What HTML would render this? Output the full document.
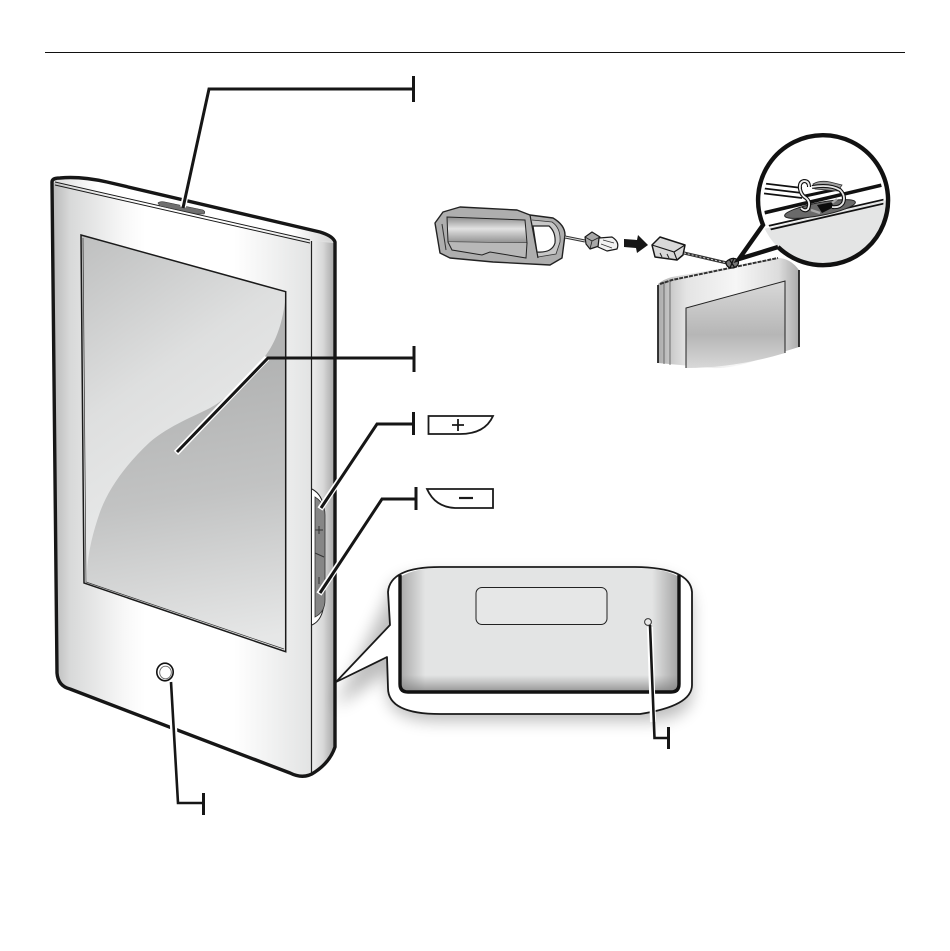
<!DOCTYPE html>
<html>
<head>
<meta charset="utf-8">
<style>
html,body{margin:0;padding:0;background:#fff;width:950px;height:951px;overflow:hidden}
svg{display:block}
</style>
</head>
<body>
<svg width="950" height="951" viewBox="0 0 950 951" xmlns="http://www.w3.org/2000/svg">
<defs>
<linearGradient id="face" gradientUnits="userSpaceOnUse" x1="52" y1="0" x2="312" y2="0">
<stop offset="0" stop-color="#b8b8b8"/><stop offset=".07" stop-color="#d8d9d9"/><stop offset=".28" stop-color="#f8f8f8"/><stop offset=".36" stop-color="#fff"/><stop offset=".7" stop-color="#fff"/><stop offset="1" stop-color="#e2e3e3"/>
</linearGradient>
<linearGradient id="side" gradientUnits="userSpaceOnUse" x1="312" y1="0" x2="334" y2="0">
<stop offset="0" stop-color="#eceded"/><stop offset=".5" stop-color="#d8d8d8"/><stop offset="1" stop-color="#a8a8a8"/>
</linearGradient>
<linearGradient id="topsurf" gradientUnits="userSpaceOnUse" x1="55" y1="0" x2="335" y2="0">
<stop offset="0" stop-color="#dcdcdc"/><stop offset=".15" stop-color="#fff"/><stop offset=".85" stop-color="#fff"/><stop offset="1" stop-color="#d0d0d0"/>
</linearGradient>
<linearGradient id="scrLight" gradientUnits="userSpaceOnUse" x1="90" y1="240" x2="230" y2="440">
<stop offset="0" stop-color="#c0c1c1"/><stop offset=".6" stop-color="#dedfdf"/><stop offset="1" stop-color="#e6e7e7"/>
</linearGradient>
<linearGradient id="scrDark" gradientUnits="userSpaceOnUse" x1="205" y1="370" x2="250" y2="640">
<stop offset="0" stop-color="#b2b3b3"/><stop offset=".45" stop-color="#c2c3c3"/><stop offset="1" stop-color="#e6e7e7"/>
</linearGradient>
<linearGradient id="cal" gradientUnits="userSpaceOnUse" x1="400" y1="0" x2="680" y2="0">
<stop offset="0" stop-color="#a8a8a8"/><stop offset=".09" stop-color="#e3e4e4"/><stop offset=".9" stop-color="#e3e4e4"/><stop offset="1" stop-color="#a0a0a0"/>
</linearGradient>
<linearGradient id="calb" gradientUnits="userSpaceOnUse" x1="0" y1="675" x2="0" y2="692">
<stop offset="0" stop-color="#888" stop-opacity="0"/><stop offset="1" stop-color="#777" stop-opacity=".75"/>
</linearGradient>
<linearGradient id="mini" gradientUnits="userSpaceOnUse" x1="658" y1="0" x2="800" y2="0">
<stop offset="0" stop-color="#aaa"/><stop offset=".1" stop-color="#ccc"/><stop offset=".2" stop-color="#e4e4e4"/><stop offset=".55" stop-color="#f6f6f6"/><stop offset=".85" stop-color="#dcdcdc"/><stop offset="1" stop-color="#a8a8a8"/>
</linearGradient>
<linearGradient id="miniScr" gradientUnits="userSpaceOnUse" x1="0" y1="285" x2="0" y2="368">
<stop offset="0" stop-color="#d6d6d6"/><stop offset=".6" stop-color="#b6b6b6"/><stop offset="1" stop-color="#d8d8d8"/>
</linearGradient>
<linearGradient id="block" gradientUnits="userSpaceOnUse" x1="0" y1="217" x2="0" y2="243">
<stop offset="0" stop-color="#8c8c8c"/><stop offset=".45" stop-color="#e2e2e2"/><stop offset="1" stop-color="#909090"/>
</linearGradient>
<filter id="sh" x="-20%" y="-20%" width="140%" height="150%"><feGaussianBlur stdDeviation="8"/></filter>
<clipPath id="cp"><circle cx="823.5" cy="201" r="60"/></clipPath>
<clipPath id="cp2"><circle cx="823.5" cy="201" r="65"/></clipPath>
</defs>

<!-- top rule -->
<rect x="45" y="52" width="860" height="1" fill="#111"/>

<!-- device -->
<path d="M52,182 Q52,178 60,178 Q80,176 107,182 L320,232 Q333,236 335,242 L335,747 Q330,762 315,772 Q304,780 290,773 L70,689 Q58,686 57,673 Z" fill="url(#face)"/>
<path d="M52,182 Q52,178 60,178 Q80,176 107,182 L320,232 Q333,236 335,242 L311,241 L55,183 Z" fill="url(#topsurf)"/>
<path d="M311,241 L335,243 L335,747 Q330,762 315,772 L311,772 Z" fill="url(#side)"/>
<path d="M55,182 L310,240 M55,185 L310,243" stroke="#1a1a1a" stroke-width="1" fill="none"/>
<path d="M311.5,241 V773" stroke="#222" stroke-width="1.2" fill="none"/>
<path d="M52,182 Q52,178 60,178 Q80,176 107,182 L320,232 Q333,236 335,242 L335,747 Q330,762 315,772 Q304,780 290,773 L70,689 Q58,686 57,673 Z" fill="none" stroke="#161616" stroke-width="3.4" stroke-linejoin="round"/>

<!-- top button -->
<path d="M158,203 Q160,201 165,202 L203,210 Q206,212 204,214 L197,214 L160,206 Z" fill="#707070" stroke="#333" stroke-width=".6"/>

<!-- screen -->
<polygon points="81,235 285.7,291.7 285.7,651.7 84,583" fill="url(#scrLight)"/>
<path d="M285,302 C282,325 275,345 262,360 C245,380 228,398 210,408 C195,416 170,425 150,442 C125,465 108,490 100,512 C93,532 88,552 87,572 L87,583 L285.7,651.7 Z" fill="url(#scrDark)"/>
<polygon points="81,235 285.7,291.7 285.7,651.7 84,583" fill="none" stroke="#1a1a1a" stroke-width="1.5"/>
<path d="M83,238 L86,582 L284,649" fill="none" stroke="#333" stroke-width=".7"/>

<!-- side buttons -->
<path d="M312,489 Q323,495 324,510 V602 Q323,620 312,625" fill="#fff" stroke="#222" stroke-width="1"/>
<path d="M315,497 Q325,503 325,515 V600 Q325,612 315,617 Z" fill="#868686" stroke="#333" stroke-width=".8"/>
<path d="M315,553 L324,557" stroke="#333" stroke-width="1"/>
<path d="M315.5,530 H323 M319,526 V534 M319,577 V584" stroke="#333" stroke-width="1"/>

<!-- home button -->
<ellipse cx="165" cy="672" rx="8.2" ry="8.8" fill="#fff" stroke="#111" stroke-width="1.6"/>
<ellipse cx="165.5" cy="672.5" rx="5.8" ry="6.3" fill="#fff" stroke="#666" stroke-width=".9"/>

<!-- callout -->
<path d="M388,590 Q390,567 440,567 H632 Q692,567 692,600 V685 Q692,714 640,714 H440 Q388,714 388,685 V665 L336,700 Z" fill="#000" opacity=".26" filter="url(#sh)" transform="translate(0,7)"/>
<path d="M390,625 L388,592 Q390,567 440,567 H632 Q690,567 692,592 V685 Q692,706 640,714 H440 Q388,714 388,688 L387,657 L336,682 Z" fill="#fff"/>
<path d="M400,577 Q415,568 440,568 H632 Q665,568 679,577 V684 Q679,692 671,692 H408 Q400,692 400,684 Z" fill="url(#cal)"/>
<rect x="401" y="675" width="277" height="17" fill="url(#calb)"/>
<path d="M390,625 L388,592 Q390,567 440,567 H632 Q690,567 692,592 V685 Q692,706 640,714 H440 Q388,714 388,688 L387,657 L336,682 Z" fill="none" stroke="#1a1a1a" stroke-width="1.8" stroke-linejoin="round"/>
<path d="M400,575 V684 Q400,692 408,692 H671 Q679,692 679,684 V575" fill="none" stroke="#111" stroke-width="3.4"/>
<rect x="476" y="587.5" width="131" height="37" rx="6" fill="#e6e7e7" stroke="#222" stroke-width="1"/>
<circle cx="648" cy="622" r="3.4" fill="#e8e8e8" stroke="#333" stroke-width="1"/>

<!-- leaders with white halos -->
<g fill="none" stroke-linejoin="miter">
<path d="M209,89 L183,207" stroke="#fff" stroke-width="6"/>
<path d="M415,89 H209 L183,208" stroke="#161616" stroke-width="3"/>
<path d="M413.5,76 V102" stroke="#161616" stroke-width="3"/>

<path d="M267,358 L176,453" stroke="#fff" stroke-width="6"/>
<path d="M415,358 H268 L177,452" stroke="#161616" stroke-width="3"/>
<path d="M414,346 V372" stroke="#161616" stroke-width="3"/>

<path d="M377,424 L320,509" stroke="#fff" stroke-width="6"/>
<path d="M413,424 H377 L321,508" stroke="#161616" stroke-width="3"/>
<path d="M413.5,412 V435" stroke="#161616" stroke-width="3"/>

<path d="M382,499 L319,594" stroke="#fff" stroke-width="6"/>
<path d="M416,499 H382 L320,593" stroke="#161616" stroke-width="3"/>
<path d="M416,487 V510" stroke="#161616" stroke-width="3"/>

<path d="M171,684 L176,770" stroke="#fff" stroke-width="7"/>
<path d="M171,682 L178,803 H203" stroke="#161616" stroke-width="2.6"/>
<path d="M203.5,793 V815" stroke="#161616" stroke-width="3"/>

<path d="M650,627 L653,722" stroke="#fff" stroke-width="6"/>
<path d="M650,625 L654.5,738 H668" stroke="#161616" stroke-width="2.6"/>
<path d="M668.5,727 V749" stroke="#161616" stroke-width="3"/>
</g>

<!-- plus / minus icons -->
<path d="M428.5,416 H493 Q485,434 460,434 H428.5 Z" fill="#fff" stroke="#1a1a1a" stroke-width="1.8"/>
<path d="M452,425 H464 M458,419 V431" stroke="#1a1a1a" stroke-width="1.8"/>
<path d="M427,489 H493 V508 H455 Q435,507 427,489 Z" fill="#fff" stroke="#1a1a1a" stroke-width="1.8"/>
<path d="M459,498 H473" stroke="#1a1a1a" stroke-width="2.2"/>

<!-- mini device -->
<path d="M658,284 Q664,279 672,277 L778,258 Q790,258 799,270 V347 L757,360 Q730,369 713,368 L658,363 Z" fill="url(#mini)"/>
<path d="M658,285 V363 M799,270 V347" stroke="#222" stroke-width="1.8" fill="none"/>
<path d="M670,280 V365 M664,282 V364" stroke="#555" stroke-width=".8" fill="none"/>
<path d="M660,284 L672,280 L778,258" stroke="#333" stroke-width="2" stroke-dasharray="4 1" fill="none"/>
<path d="M686,308 L785,281 V353 Q735,368 686,368 Z" fill="url(#miniScr)"/>
<path d="M686,368 V308 L785,281 V353" fill="none" stroke="#222" stroke-width="1"/>

<!-- strap -->
<path d="M435,223 L443,212 L460,207 L517,210 L530,215 L553,218 Q565,225 565,235 L562,258 L550,265 L493,262 L450,258 L440,253 Z" fill="#aeaeae" stroke="#222" stroke-width="1.4" stroke-linejoin="round"/>
<path d="M532,220 L552,222 Q561,228 560,242 L556,254 L538,257" fill="#c8c8c8" stroke="#333" stroke-width=".8"/>
<path d="M533,226 H549 Q556,232 555,243 Q552,253 537,252 Z" fill="#fff" stroke="#222" stroke-width="1.2"/>
<path d="M530,215 L538,258" stroke="#222" stroke-width="1.2"/>
<path d="M447,217 L525,220 L527,243 L448,242 Z" fill="url(#block)" stroke="#222" stroke-width="1"/>
<path d="M448,242 L452,250 L482,255 L490,252 L526,258 L527,243" fill="#b8b8b8" stroke="#222" stroke-width="1"/>
<path d="M442,224 L446,250" stroke="#333" stroke-width="1"/>
<path d="M565,237 L585,241" stroke="#333" stroke-width="3"/>
<path d="M565,237 L585,241" stroke="#e0e0e0" stroke-width="1"/>
<path d="M585,237 L592,232 L600,237 L599,246 L590,249 L586,244 Z" fill="#a8a8a8" stroke="#1a1a1a" stroke-width="1.2" stroke-linejoin="round"/>
<path d="M585,237 L592,241 L590,249 M592,241 L600,237" fill="none" stroke="#222" stroke-width=".8"/>
<path d="M599,238 L612,237 Q620,242 617,249 L607,251 L598,247 Z" fill="#f2f2f2" stroke="#1a1a1a" stroke-width="1.2" stroke-linejoin="round"/>
<path d="M603,240 L614,243 M601,244 L612,248" stroke="#333" stroke-width=".7"/>

<!-- arrow -->
<polygon points="624,239 637,240 638,235 648,245 637,253 636,248 624,247" fill="#161616"/>

<!-- plug 2 -->
<path d="M652,245 L660,237 L685,245 L683,255 L677,260 L655,257 Z" fill="#d8d8d8" stroke="#161616" stroke-width="1.5" stroke-linejoin="round"/>
<path d="M652,245 L674,252 L677,260 M674,252 L685,245" fill="none" stroke="#161616" stroke-width="1.1"/>
<path d="M660,253 L662,257 M667,254 L669,258" stroke="#222" stroke-width="1"/>
<path d="M684,253 Q705,258 727,263" stroke="#333" stroke-width="3.2" fill="none"/>
<path d="M684,253 Q705,258 727,263" stroke="#ccc" stroke-width="1" stroke-dasharray="2 2" fill="none"/>
<path d="M726,262 Q732,256 738,260 Q740,266 733,268 Q726,268 726,262 M729,259 L735,268 M734,258 L730,268" fill="#777" stroke="#111" stroke-width="1.2"/>

<!-- magnifier -->
<path d="M763,225 L739,259 L778,247 L800,235 L775,210 Z" fill="#fff"/>
<circle cx="823.5" cy="201" r="65" fill="#fff"/>
<g clip-path="url(#cp2)">
<polygon points="755,231 895,198 895,275 755,275" fill="#e4e5e5"/>
</g>
<g clip-path="url(#cp)">
<path d="M755,215 L895,182" stroke="#111" stroke-width="3.6"/>
<path d="M755,229 L895,197" stroke="#111" stroke-width="1.8"/>
<path d="M755,233 L895,201" stroke="#111" stroke-width="1.8"/>
<ellipse cx="820" cy="209" rx="36" ry="6.5" fill="#6a6a6a" stroke="#222" stroke-width="1" transform="rotate(-11 820 209)"/>
<polygon points="817,205 833,202 832,208 822,213" fill="#0c0c0c"/>
<path d="M805,196 L838,189" stroke="#111" stroke-width="3"/>
<path d="M760,183 L802,188 M760,188 L802,193 M760,193 L802,198" stroke="#111" stroke-width="1.7" fill="none"/>
<path d="M813,184 Q820,180 830,182 L842,185 L838,191 L815,189 Z" fill="#a0a0a0" stroke="#333" stroke-width=".8"/>
<path d="M812,187 Q830,184 840,190 Q846,196 843,203 Q840,208 832,207" fill="none" stroke="#111" stroke-width="4"/>
<path d="M812,187 Q830,184 840,190 Q846,196 843,203 Q840,208 832,207" fill="none" stroke="#e8e8e8" stroke-width="1.8"/>
<path d="M809,187 Q809,181 804,181 Q799,182 800,189 Q801,195 806,198 Q811,202 808,209 Q805,212 801,208" fill="none" stroke="#111" stroke-width="4"/>
<path d="M809,187 Q809,181 804,181 Q799,182 800,189 Q801,195 806,198 Q811,202 808,209 Q805,212 801,208" fill="none" stroke="#f0f0f0" stroke-width="1.8"/>
<path d="M811,210 L820,213 M832,203 L837,199" stroke="#aaa" stroke-width="2.4"/>
</g>
<path d="M778,247 A65,65 0 1 0 763,225 L739,259 L778,247" fill="none" stroke="#111" stroke-width="4.4" stroke-linejoin="miter"/>
</svg>
</body>
</html>
